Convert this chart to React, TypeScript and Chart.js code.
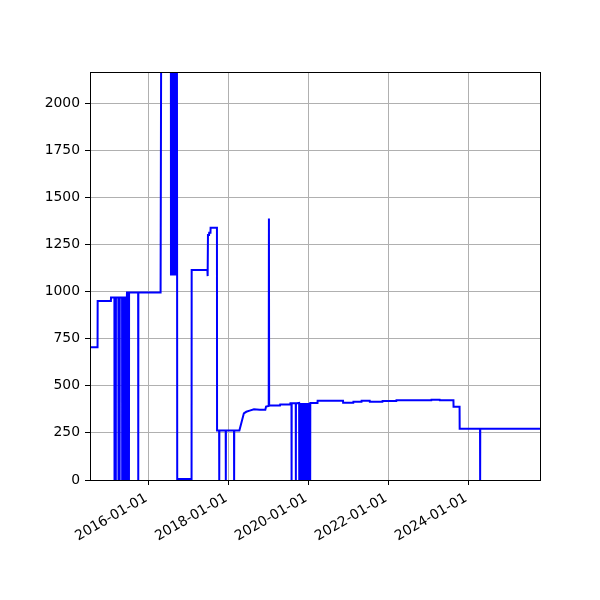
import React, { useEffect, useRef } from "react";
import { Chart, registerables } from "chart.js";

Chart.register(...registerables);

// Observation dates (YYYY-MM-DD) and the value recorded on each date
const dates: string[] = [
  "2014-07-17", "2014-09-24", "2014-09-25", "2015-01-24", "2015-01-25",
  "2015-02-25", "2015-02-26", "2015-02-27",
  "2015-03-09", "2015-03-10", "2015-03-11",
  "2015-04-02", "2015-04-03", "2015-04-04",
  "2015-04-13", "2015-04-14", "2015-04-15",
  "2015-05-06", "2015-05-07", "2015-05-08",
  "2015-05-15", "2015-05-16", "2015-05-17",
  "2015-06-02", "2015-06-03", "2015-06-04",
  "2015-06-14", "2015-06-15", "2015-06-16",
  "2015-06-19", "2015-06-20",
  "2015-07-02", "2015-07-03", "2015-07-04",
  "2015-07-07", "2015-07-08", "2015-07-09",
  "2015-09-30", "2015-10-01", "2015-10-02",
  "2016-04-22", "2016-04-28", "2016-07-25",
  "2016-07-26", "2016-07-28", "2016-07-30", "2016-08-01", "2016-08-03",
  "2016-08-05", "2016-08-07", "2016-08-09", "2016-08-11", "2016-08-13",
  "2016-08-15", "2016-08-17", "2016-08-19", "2016-08-21", "2016-08-23",
  "2016-08-25", "2016-08-27", "2016-08-29", "2016-08-31", "2016-09-02",
  "2016-09-04", "2016-09-06", "2016-09-08", "2016-09-10", "2016-09-12",
  "2016-09-14", "2016-09-16", "2016-09-18", "2016-09-20",
  "2016-09-21", "2017-01-30", "2017-01-31",
  "2017-06-24", "2017-06-26", "2017-06-29", "2017-07-09", "2017-07-10",
  "2017-07-22", "2017-07-23", "2017-09-19", "2017-09-20",
  "2017-10-09", "2017-10-10", "2017-10-11",
  "2017-12-08", "2017-12-09", "2017-12-10",
  "2018-02-22", "2018-02-23", "2018-02-24",
  "2018-04-12", "2018-05-23", "2018-06-14", "2018-07-15", "2018-08-23",
  "2018-10-15", "2018-12-05", "2018-12-12", "2019-01-05", "2019-01-07",
  "2019-01-09", "2019-04-18", "2019-04-20", "2019-07-20", "2019-07-22",
  "2019-08-01", "2019-08-02", "2019-08-03",
  "2019-09-09", "2019-09-10", "2019-09-11",
  "2019-10-10",
  "2019-10-11", "2019-10-13", "2019-10-15", "2019-10-17", "2019-10-19",
  "2019-10-21", "2019-10-23", "2019-10-25", "2019-10-27", "2019-10-29",
  "2019-10-31", "2019-11-02", "2019-11-04", "2019-11-06", "2019-11-08",
  "2019-11-10", "2019-11-12", "2019-11-14", "2019-11-16", "2019-11-18",
  "2019-11-20", "2019-11-22", "2019-11-24", "2019-11-26", "2019-11-28",
  "2019-11-30", "2019-12-02", "2019-12-04", "2019-12-06", "2019-12-08",
  "2019-12-10", "2019-12-12", "2019-12-14", "2019-12-16", "2019-12-18",
  "2019-12-20", "2019-12-22", "2019-12-24", "2019-12-26", "2019-12-28",
  "2019-12-30", "2020-01-01", "2020-01-03", "2020-01-05", "2020-01-07",
  "2020-01-09", "2020-01-11", "2020-01-13", "2020-01-15", "2020-01-17",
  "2020-01-19", "2020-01-20",
  "2020-03-26", "2020-03-27", "2020-11-14", "2020-11-15",
  "2021-02-16", "2021-02-17", "2021-05-02", "2021-05-03",
  "2021-07-16", "2021-07-17", "2021-11-09", "2021-11-10",
  "2022-03-16", "2022-03-17", "2023-01-30", "2023-01-31",
  "2023-04-16", "2023-04-17", "2023-08-20", "2023-08-21",
  "2023-10-15", "2023-10-16",
  "2024-04-19", "2024-04-20", "2024-04-21",
  "2025-10-19",
];

const values: number[] = [
  705, 705, 950, 950, 969,
  969, 0, 969,
  969, 0, 969,
  969, 0, 969,
  969, 0, 969,
  969, 0, 969,
  969, 0, 969,
  969, 0, 969,
  969, 0, 969,
  969, 995,
  995, 0, 995,
  995, 0, 995,
  995, 0, 995,
  995, 2500, 2500,
  1085, 2500, 1085, 2500, 1085,
  2500, 1085, 2500, 1085, 2500,
  1085, 2500, 1085, 2500, 1085,
  2500, 1085, 2500, 1085, 2500,
  1085, 2500, 1085, 2500, 1085,
  2500, 1085, 2500, 1085,
  5, 5, 1115,
  1115, 1082, 1300, 1300, 1312,
  1312, 1338, 1338, 263,
  263, 0, 263,
  263, 0, 263,
  263, 0, 263,
  263, 354, 362, 368, 375,
  373, 373, 390, 393, 1388,
  395, 395, 401, 401, 407,
  407, 0, 407,
  407, 0, 407,
  409,
  0, 409, 0, 409, 0,
  409, 0, 409, 0, 409,
  0, 409, 0, 409, 0,
  409, 0, 409, 0, 409,
  0, 409, 0, 409, 0,
  409, 0, 409, 0, 409,
  0, 409, 0, 409, 0,
  409, 0, 409, 0, 409,
  0, 409, 0, 409, 0,
  409, 0, 409, 0, 409,
  0, 409,
  409, 421, 421, 410,
  410, 415, 415, 421,
  421, 415, 415, 419,
  419, 423, 423, 426,
  426, 423, 423, 389,
  389, 272,
  272, 0, 272,
  272,
];

const xTickDates: string[] = ["2016-01-01", "2018-01-01", "2020-01-01", "2022-01-01", "2024-01-01"];
const yTickValues: number[] = [0, 250, 500, 750, 1000, 1250, 1500, 1750, 2000];
const xMinDate = "2014-07-17";
const xMaxDate = "2025-10-19";
const yMin = 0;
const yMax = 2165;

const FONT = { family: "'DejaVu Sans', sans-serif", size: 13.9 };

const spinesPlugin = {
  id: "spines",
  afterDraw(chart: any) {
    const { ctx, chartArea } = chart;
    ctx.save();
    ctx.strokeStyle = "#000";
    ctx.lineWidth = 1;
    const l = Math.round(chartArea.left) + 0.5;
    const t = Math.round(chartArea.top) + 0.5;
    const r = Math.round(chartArea.right) + 0.5;
    const b = Math.round(chartArea.bottom) + 0.5;
    ctx.strokeRect(l, t, r - l, b - t);
    ctx.restore();
  },
};

export default function App() {
  const canvasRef = useRef<HTMLCanvasElement | null>(null);

  useEffect(() => {
    if (!canvasRef.current) return;
    const points = dates.map((d, i) => ({ x: Date.parse(d), y: values[i] }));
    const chart = new Chart(canvasRef.current, {
      type: "line",
      data: {
        datasets: [
          {
            data: points,
            borderColor: "#0000ff",
            borderWidth: 2,
            borderDash: [100000, 0],
            borderJoinStyle: "miter",
            pointRadius: 0,
            tension: 0,
            fill: false,
            clip: 0,
          } as any,
        ],
      },
      options: {
        animation: false,
        responsive: false,
        maintainAspectRatio: false,
        layout: { padding: { top: 72, right: 60, left: 0, bottom: 0 } },
        plugins: {
          legend: { display: false },
          tooltip: { enabled: false },
        },
        scales: {
          x: {
            type: "linear",
            min: Date.parse(xMinDate),
            max: Date.parse(xMaxDate),
            afterBuildTicks: (scale: any) => {
              scale.ticks = xTickDates.map((d) => ({ value: Date.parse(d) }));
            },
            afterFit: (scale: any) => {
              scale.height = 120;
            },
            grid: {
              color: "#b0b0b0",
              lineWidth: 1,
              tickColor: "#000",
              tickLength: 5,
              tickWidth: 1,
            },
            border: { display: false },
            ticks: {
              autoSkip: false,
              minRotation: 30,
              maxRotation: 30,
              padding: 5,
              labelOffset: -2,
              color: "#000",
              font: FONT,
              callback: (v: any) => new Date(Number(v)).toISOString().slice(0, 10),
            },
          },
          y: {
            type: "linear",
            min: yMin,
            max: yMax,
            afterBuildTicks: (scale: any) => {
              scale.ticks = yTickValues.map((v) => ({ value: v }));
            },
            afterFit: (scale: any) => {
              scale.width = 90;
            },
            grid: {
              color: "#b0b0b0",
              lineWidth: 1,
              tickColor: "#000",
              tickLength: 5,
              tickWidth: 1,
            },
            border: { display: false },
            ticks: {
              padding: 5,
              color: "#000",
              font: FONT,
              callback: (v: any) => String(v),
            },
          },
        },
      } as any,
      plugins: [spinesPlugin],
    });
    return () => chart.destroy();
  }, []);

  return (
    <div style={{ position: "absolute", left: 0, top: 0, width: 600, height: 600, background: "#fff" }}>
      <canvas ref={canvasRef} width={600} height={600} style={{ display: "block", width: 600, height: 600 }} />
    </div>
  );
}
